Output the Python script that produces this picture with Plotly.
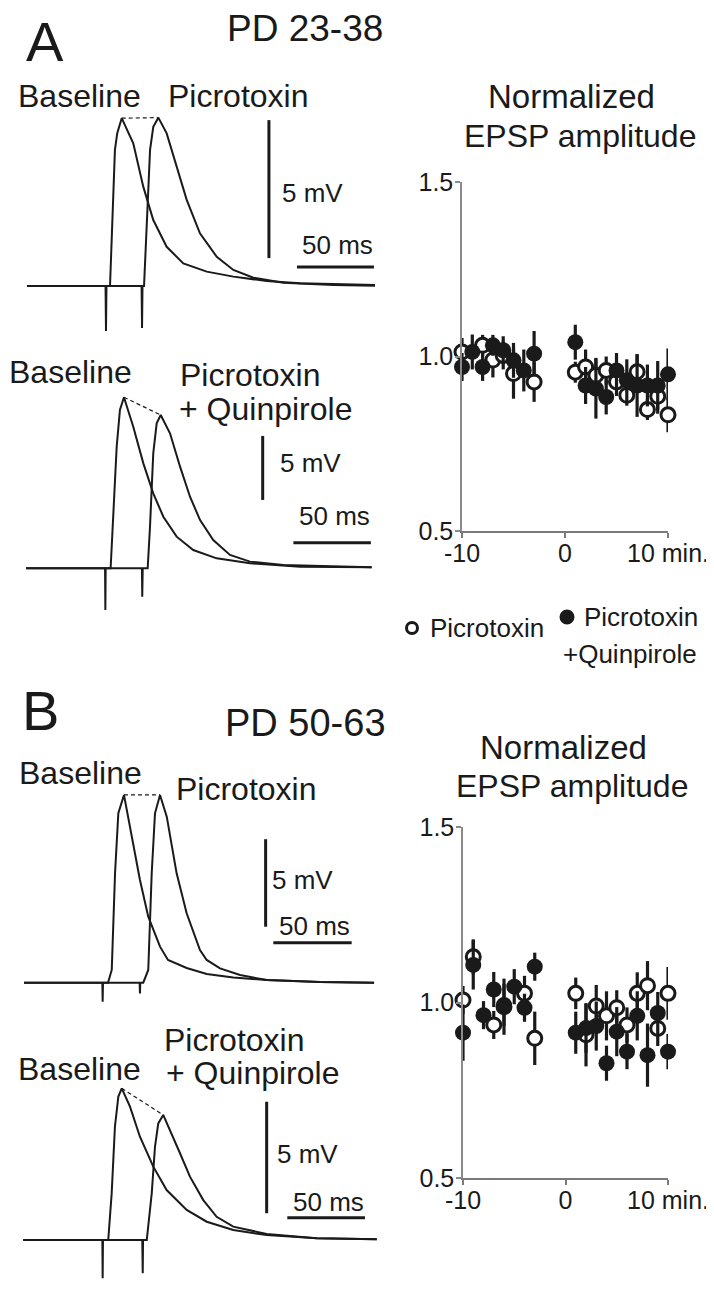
import plotly.graph_objects as go

W, H = 714, 1289
PAGE_MARGIN = 8  # the browser page adds an 8px body margin around the figure
FONT = "Liberation Sans, Arial, Helvetica, sans-serif"
INK = "#1a1a1a"

# ---------------- data: example EPSP traces (time in ms, voltage in mV) ----------------
A1_BASE_T = [0, 51.0, 51.3, 51.6, 53.9, 55.0, 57.1, 58.6, 61.5, 69.0, 75.5, 82.0, 90.7, 101.5, 116.7, 134.0, 155.6, 177.3, 226.0]
A1_BASE_V = [0, 0, -1.63, 0, 0, 1.92, 4.93, 5.54, 6.08, 5.17, 3.60, 2.39, 1.42, 0.82, 0.52, 0.34, 0.18, 0.10, 0.04]
A1_PTX_T = [0, 74.4, 74.7, 75.0, 76.0, 77.7, 79.9, 82.0, 85.3, 90.7, 97.2, 103.7, 112.3, 123.2, 134.0, 147.0, 166.4, 198.9, 226.0]
A1_PTX_V = [0, 0, -1.52, 0, 0, 1.92, 4.93, 5.77, 6.10, 5.53, 4.32, 3.12, 1.91, 1.06, 0.58, 0.30, 0.12, 0.04, 0.01]

A2_BASE_T = [0, 51.0, 51.2, 51.4, 54.6, 56.3, 58.5, 60.6, 63.2, 69.2, 75.7, 82.1, 88.6, 97.2, 107.9, 123.0, 144.5, 176.8, 223.0]
A2_BASE_V = [0, 0, -3.26, 0, 0, 3.77, 9.50, 12.37, 13.36, 11.06, 8.20, 5.86, 4.03, 2.47, 1.43, 0.78, 0.39, 0.13, 0.08]
A2_QUIN_T = [0, 74.8, 75.0, 75.3, 78.5, 80.0, 82.1, 84.3, 86.9, 92.9, 99.4, 105.8, 112.3, 120.8, 131.6, 144.5, 166.0, 198.3, 223.0]
A2_QUIN_V = [0, 0, -2.22, 0, 0, 3.25, 8.98, 11.33, 11.98, 10.55, 7.94, 5.59, 3.77, 2.21, 1.04, 0.52, 0.26, 0.13, 0.08]

B1_BASE_T = [0, 50.0, 50.2, 50.4, 53.6, 56.0, 58.1, 60.2, 63.8, 67.6, 74.0, 79.3, 86.8, 91.9, 103.8, 116.6, 133.6, 154.9, 188.9, 223.4]
B1_BASE_V = [0, 0, -1.09, 0, 0, 0.73, 6.25, 9.68, 10.73, 8.91, 5.87, 3.77, 2.06, 1.30, 0.84, 0.50, 0.30, 0.15, 0.04, 0]
B1_PTX_T = [0, 73.8, 74.0, 74.2, 76.1, 79.3, 81.5, 83.6, 86.8, 91.1, 97.4, 103.8, 112.3, 116.6, 125.1, 137.9, 154.9, 188.9, 223.4]
B1_PTX_V = [0, 0, -0.61, 0, 0, 0.73, 6.25, 9.68, 10.73, 9.49, 6.25, 3.97, 1.87, 1.30, 0.82, 0.44, 0.15, 0.04, 0]

B2_BASE_T = [0, 50.9, 51.1, 51.3, 54.7, 56.9, 59.0, 61.2, 63.4, 68.7, 75.1, 83.7, 92.3, 105.2, 118.1, 135.2, 156.7, 188.9, 227.6]
B2_BASE_V = [0, 0, -1.72, 0, 0, 2.09, 5.08, 6.43, 6.80, 5.98, 4.63, 3.29, 2.24, 1.35, 0.82, 0.45, 0.22, 0.08, 0.03]
B2_QUIN_T = [0, 76.6, 76.9, 77.1, 79.5, 82.7, 84.8, 86.9, 90.1, 94.5, 100.9, 107.3, 115.9, 124.5, 135.2, 156.7, 188.9, 227.6]
B2_QUIN_V = [0, 0, -1.49, 0, 0, 2.09, 4.18, 5.23, 5.61, 4.93, 3.89, 2.84, 1.79, 1.04, 0.60, 0.27, 0.08, 0.03]

# ---------------- data: normalized EPSP amplitude (time in min) ----------------
A_PTX_X = [-10, -8, -7, -6, -5, -3, 1, 2, 3, 4, 5, 6, 7, 8, 9, 10]
A_PTX_Y = [1.013, 1.032, 0.99, 1.003, 0.951, 0.927, 0.955, 0.97, 0.946, 0.96, 0.927, 0.889, 0.956, 0.848, 0.886, 0.833]
A_PTX_E = [0.04, 0.03, 0.05, 0.04, 0.072, 0.057, 0.03, 0.05, 0.05, 0.04, 0.04, 0.03, 0.05, 0.03, 0.05, 0.05]
A_QUIN_X = [-10, -9, -8, -7, -6, -5, -4, -3, 1, 2, 3, 4, 5, 6, 7, 8, 9, 10]
A_QUIN_Y = [0.97, 1.013, 0.97, 1.032, 1.018, 0.989, 0.96, 1.008, 1.041, 0.917, 0.908, 0.884, 0.96, 0.932, 0.917, 0.917, 0.917, 0.949]
A_QUIN_E = [0.04, 0.05, 0.04, 0.03, 0.04, 0.05, 0.06, 0.065, 0.05, 0.053, 0.086, 0.05, 0.05, 0.06, 0.09, 0.06, 0.07, 0.074]

B_PTX_X = [-10, -9, -7, -6, -4, -3, 1, 2, 3, 4, 5, 6, 7, 8, 9, 10]
B_PTX_Y = [1.007, 1.13, 0.936, 0.988, 1.026, 0.898, 1.026, 0.908, 0.99, 0.962, 0.985, 0.936, 1.026, 1.048, 0.926, 1.026]
B_PTX_E = [0.04, 0.05, 0.04, 0.08, 0.05, 0.076, 0.045, 0.09, 0.06, 0.07, 0.05, 0.05, 0.06, 0.07, 0.05, 0.075]
B_QUIN_X = [-10, -9, -8, -7, -6, -5, -4, -3, 1, 2, 3, 4, 5, 6, 7, 8, 9, 10]
B_QUIN_Y = [0.914, 1.107, 0.964, 1.037, 0.993, 1.045, 0.985, 1.102, 0.914, 0.927, 0.933, 0.827, 0.917, 0.86, 0.962, 0.85, 0.97, 0.86]
B_QUIN_E = [0.08, 0.07, 0.04, 0.05, 0.06, 0.05, 0.04, 0.04, 0.06, 0.07, 0.07, 0.05, 0.07, 0.05, 0.07, 0.09, 0.06, 0.05]

X_TICKS = [-10, 0, 10]
X_TICK_TEXT = ["-10", "0", "10 min."]
Y_TICKS = [0.5, 1.0, 1.5]
Y_TICK_TEXT = ["0.5", "1.0", "1.5"]

# ---------------- helpers (screen px -> paper fraction) ----------------
def px(x):
    return (x - PAGE_MARGIN) / W


def py(y):
    return 1 - (y - PAGE_MARGIN) / H


fig = go.Figure()
layout = dict(
    width=W, height=H, autosize=False,
    margin=dict(l=0, r=0, t=0, b=0, pad=0),
    paper_bgcolor="white", plot_bgcolor="rgba(0,0,0,0)",
    showlegend=False,
    font=dict(family=FONT, color=INK),
)
shapes = []
annotations = []

# trace panels: (index, box px, origin px, px/ms, px/mV, traces, scale-bar anchors)
panels = [
    (1, (10, 400, 100, 345), (27, 286), 1.54, 27.6,
     [(A1_BASE_T, A1_BASE_V), (A1_PTX_T, A1_PTX_V)], (157.1, 1.01, 175.3, 0.69)),
    (2, (10, 400, 380, 625), (26, 568.3), 1.55, 12.8,
     [(A2_BASE_T, A2_BASE_V), (A2_QUIN_T, A2_QUIN_V)], (152.7, 5.34, 172.5, 2.0)),
    (3, (10, 400, 780, 1010), (24, 982.7), 1.567, 17.5,
     [(B1_BASE_T, B1_BASE_V), (B1_PTX_T, B1_PTX_V)], (154.2, 3.2, 159.1, 2.29)),
    (4, (10, 400, 1080, 1289), (23.3, 1240), 1.553, 22.3,
     [(B2_BASE_T, B2_BASE_V), (B2_QUIN_T, B2_QUIN_V)], (156.7, 1.2, 170.0, 1.0)),
]

for idx, (L, R, T, B), (x0, y0), sx, sy, traces, (vbx, vby, hbx, hby) in panels:
    xa = "x" if idx == 1 else f"x{idx}"
    ya = "y" if idx == 1 else f"y{idx}"
    xkey = "xaxis" if idx == 1 else f"xaxis{idx}"
    ykey = "yaxis" if idx == 1 else f"yaxis{idx}"
    layout[xkey] = dict(domain=[px(L), px(R)], range=[(L - x0) / sx, (R - x0) / sx],
                        visible=False, anchor=ya, fixedrange=True, automargin=False)
    layout[ykey] = dict(domain=[py(B), py(T)], range=[(y0 - B) / sy, (y0 - T) / sy],
                        visible=False, anchor=xa, fixedrange=True, automargin=False)
    peaks = []
    for t, v in traces:
        fig.add_trace(go.Scatter(x=t, y=v, mode="lines", xaxis=xa, yaxis=ya,
                                 line=dict(color=INK, width=2), cliponaxis=False,
                                 hoverinfo="skip"))
        i = v.index(max(v))
        peaks.append((t[i], v[i]))
    # dashed line joining the two peaks
    shapes.append(dict(type="line", xref=xa, yref=ya, x0=peaks[0][0], y0=peaks[0][1],
                       x1=peaks[1][0], y1=peaks[1][1],
                       line=dict(color=INK, width=1.2, dash="4px,3px")))
    # scale bars: 5 mV and 50 ms
    shapes.append(dict(type="line", xref=xa, yref=ya, x0=vbx, x1=vbx, y0=vby, y1=vby + 5,
                       line=dict(color=INK, width=3)))
    shapes.append(dict(type="line", xref=xa, yref=ya, x0=hbx, x1=hbx + 50, y0=hby, y1=hby,
                       line=dict(color=INK, width=3)))

# scatter panels
scatter_panels = [
    (5, (462, 668, 182, 531), (A_PTX_X, A_PTX_Y, A_PTX_E), (A_QUIN_X, A_QUIN_Y, A_QUIN_E)),
    (6, (463, 668, 827, 1178), (B_PTX_X, B_PTX_Y, B_PTX_E), (B_QUIN_X, B_QUIN_Y, B_QUIN_E)),
]
for idx, (L, R, T, B), ptx, quin in scatter_panels:
    xa, ya = f"x{idx}", f"y{idx}"
    layout[f"xaxis{idx}"] = dict(
        domain=[px(L), px(R)], range=[-10, 10], anchor=ya, fixedrange=True, automargin=False,
        showline=True, linecolor="#7a7a7a", linewidth=1.5, showgrid=False, zeroline=False,
        ticks="outside", ticklen=5, tickwidth=1.5, tickcolor="#7a7a7a",
        tickvals=X_TICKS, ticktext=X_TICK_TEXT, ticklabelstandoff=-6,
        tickfont=dict(size=25, color=INK, family=FONT))
    layout[f"yaxis{idx}"] = dict(
        domain=[py(B), py(T)], range=[0.5, 1.5], anchor=xa, fixedrange=True, automargin=False,
        showline=True, linecolor="#8a8a8a", linewidth=1.5, showgrid=False, zeroline=False,
        ticks="outside", ticklen=5, tickwidth=1.5, tickcolor="#8a8a8a",
        tickvals=Y_TICKS, ticktext=Y_TICK_TEXT, ticklabelstandoff=-3,
        tickfont=dict(size=25, color=INK, family=FONT))
    fig.add_trace(go.Scatter(
        x=ptx[0], y=ptx[1], mode="markers", xaxis=xa, yaxis=ya, cliponaxis=False,
        error_y=dict(type="data", array=ptx[2], visible=True, thickness=3.2, width=0, color=INK),
        marker=dict(symbol="circle", size=14, color="white", line=dict(color=INK, width=3))))
    fig.add_trace(go.Scatter(
        x=quin[0], y=quin[1], mode="markers", xaxis=xa, yaxis=ya, cliponaxis=False,
        error_y=dict(type="data", array=quin[2], visible=True, thickness=3.2, width=0, color=INK),
        marker=dict(symbol="circle", size=16, color=INK, line=dict(color=INK, width=0))))


def label(text, cx, cy, size, xanchor="center", yanchor="middle"):
    annotations.append(dict(text=text, x=px(cx), y=py(cy), xref="paper", yref="paper",
                            showarrow=False, xanchor=xanchor, yanchor=yanchor, borderpad=0,
                            font=dict(size=size, family=FONT, color=INK)))


# panel A texts
label("A", 45, 9, 56, yanchor="top")
label("PD 23-38", 305, 29, 37)
label("Baseline", 79, 96, 32)
label("Picrotoxin", 238, 96, 32)
label("5 mV", 312, 193, 26)
label("50 ms", 337, 245, 26)
label("Baseline", 70, 372, 32)
label("Picrotoxin", 250, 375, 32)
label("+ Quinpirole", 265, 409, 32)
label("5 mV", 310, 463, 26)
label("50 ms", 334, 516, 26)
label("Normalized", 571, 97, 33)
label("EPSP amplitude", 580, 136, 32)
# legend
label("Picrotoxin", 487, 628, 26)
label("Picrotoxin", 641, 617, 26)
label("+Quinpirole", 630, 654, 26)
shapes.append(dict(type="circle", xref="paper", yref="paper",
                   x0=px(406.5), x1=px(417.5), y0=py(633.5), y1=py(622.5),
                   line=dict(color=INK, width=3), fillcolor="white"))
shapes.append(dict(type="circle", xref="paper", yref="paper",
                   x0=px(559.5), x1=px(574.5), y0=py(624.5), y1=py(609.5),
                   line=dict(color=INK, width=0), fillcolor=INK))

# panel B texts
label("B", 40, 710, 56)
label("PD 50-63", 305, 723, 38)
label("Baseline", 80, 773, 32)
label("Picrotoxin", 247, 789, 32)
label("5 mV", 302, 880, 26)
label("50 ms", 314, 926, 26)
label("Picrotoxin", 234, 1040, 32)
label("+ Quinpirole", 252, 1073, 32)
label("Baseline", 79, 1069, 32)
label("5 mV", 307, 1154, 26)
label("50 ms", 328, 1202, 26)
label("Normalized", 563, 747, 33)
label("EPSP amplitude", 572, 786, 32)

layout["shapes"] = shapes
layout["annotations"] = annotations
fig.update_layout(**layout)
fig.write_html("out.html")
